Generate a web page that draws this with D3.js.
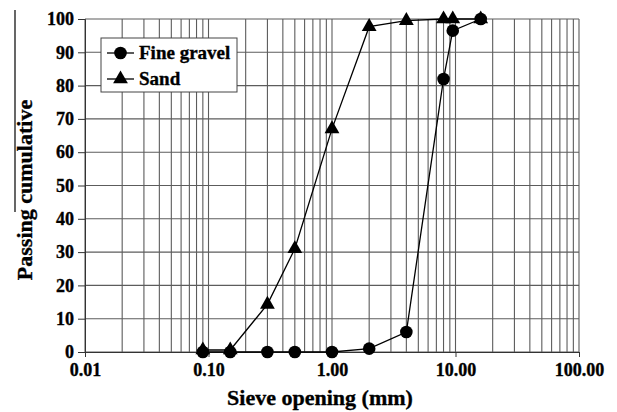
<html>
<head>
<script src="https://d3js.org/d3.v7.min.js"></script>
<style>
body { margin: 0; background: #fff; }
text { font-family: "Liberation Serif", "Times New Roman", serif; font-weight: bold; fill: #000; stroke: #000; stroke-width: 0.35px; }
</style>
</head>
<body>
<svg id="chart" width="617" height="412"></svg>
<script>
// sieve sizes (mm) and cumulative passing (%)
var sieves = [0.09, 0.15, 0.3, 0.5, 1, 2, 4, 8, 9.5, 16];
var fineGravel = [0, 0, 0, 0, 0, 1, 6, 82, 96.5, 100];
var sand = [0.6, 0.6, 14.3, 31, 67, 97.7, 99.5, 100, 100, 100];
var xTicks = [0.01, 0.1, 1, 10, 100];
var yTicks = [0, 10, 20, 30, 40, 50, 60, 70, 80, 90, 100];

var plotL = 85, plotR = 579, plotT = 19, plotB = 352;
var svg = d3.select("#chart");

var xScale = d3.scaleLog().domain([0.01, 100]).range([plotL, plotR]);
var yScale = d3.scaleLinear().domain([0, 100]).range([plotB, plotT]);

// minor log grid 1..9 per decade
var gridX = [];
for (var e = -2; e < 2; e++) {
	for (var m = 1; m < 10; m++) gridX.push(m * Math.pow(10, e));
}
gridX.push(100);

svg.append("g").selectAll("line").data(gridX).enter().append("line")
	.attr("x1", function(d){ return xScale(d); })
	.attr("x2", function(d){ return xScale(d); })
	.attr("y1", plotT).attr("y2", plotB)
	.attr("stroke", "#5c5c5c").attr("stroke-width", 1.1);

svg.append("g").selectAll("line").data(yTicks).enter().append("line")
	.attr("x1", plotL).attr("x2", plotR)
	.attr("y1", function(d){ return yScale(d); })
	.attr("y2", function(d){ return yScale(d); })
	.attr("stroke", "#5c5c5c").attr("stroke-width", 1.1);

// axes
var xAxis = d3.axisBottom(xScale).tickValues(xTicks).tickSize(5).tickPadding(6)
	.tickFormat(d3.format(".2f"));
var yAxis = d3.axisLeft(yScale).tickValues(yTicks).tickSize(7).tickPadding(4);

var gx = svg.append("g").attr("transform", "translate(0," + plotB + ")").call(xAxis);
var gy = svg.append("g").attr("transform", "translate(" + plotL + ",0)").call(yAxis);
[gx, gy].forEach(function(g){
	g.select(".domain").attr("stroke", "#333");
	g.selectAll(".tick line").attr("stroke", "#333");
	g.selectAll("text").style("font-size", "18px").style("font-family", "Liberation Serif, serif").style("font-weight", "bold");
});

// series lines
var line = d3.line()
	.x(function(d){ return xScale(d[0]); })
	.y(function(d){ return yScale(d[1]); });

var sandPts = d3.zip(sieves, sand);
var gravelPts = d3.zip(sieves, fineGravel);

svg.append("path").attr("d", line(sandPts))
	.attr("fill", "none").attr("stroke", "#000").attr("stroke-width", 1.3);
svg.append("path").attr("d", line(gravelPts))
	.attr("fill", "none").attr("stroke", "#000").attr("stroke-width", 1.3);

var triangle = d3.symbol().type(d3.symbolTriangle).size(95);

svg.append("g").selectAll("path").data(sandPts).enter().append("path")
	.attr("d", triangle)
	.attr("transform", function(d){ return "translate(" + xScale(d[0]) + "," + yScale(d[1]) + ")"; })
	.attr("fill", "#000");

svg.append("g").selectAll("circle").data(gravelPts).enter().append("circle")
	.attr("cx", function(d){ return xScale(d[0]); })
	.attr("cy", function(d){ return yScale(d[1]); })
	.attr("r", 6.3)
	.attr("fill", "#000");

// legend
var legend = svg.append("g").attr("transform", "translate(101,38)");
legend.append("rect").attr("width", 136).attr("height", 54)
	.attr("fill", "#fff").attr("stroke", "#444").attr("stroke-width", 1);
legend.append("line").attr("x1", 6).attr("x2", 33).attr("y1", 15).attr("y2", 15).attr("stroke", "#000").attr("stroke-width", 1.3);
legend.append("circle").attr("cx", 19.5).attr("cy", 15).attr("r", 6.3).attr("fill", "#000");
legend.append("text").attr("x", 38).attr("y", 21).style("font-size", "19px").text("Fine gravel");
legend.append("line").attr("x1", 6).attr("x2", 33).attr("y1", 41).attr("y2", 41).attr("stroke", "#000").attr("stroke-width", 1.3);
legend.append("path").attr("d", triangle).attr("transform", "translate(19.5,41)").attr("fill", "#000");
legend.append("text").attr("x", 38).attr("y", 47).style("font-size", "19px").text("Sand");

// axis titles
svg.append("text").attr("x", 320).attr("y", 405)
	.attr("text-anchor", "middle").style("font-size", "22px").text("Sieve opening (mm)");
svg.append("text").attr("transform", "translate(32,190) rotate(-90)")
	.attr("text-anchor", "middle").style("font-size", "22px").text("Passing cumulative");

// stray frame edge at the left of the original figure
svg.append("line").attr("x1", 15).attr("x2", 15).attr("y1", 10).attr("y2", 212)
	.attr("stroke", "#000").attr("stroke-width", 1.2);
</script>
</body>
</html>
